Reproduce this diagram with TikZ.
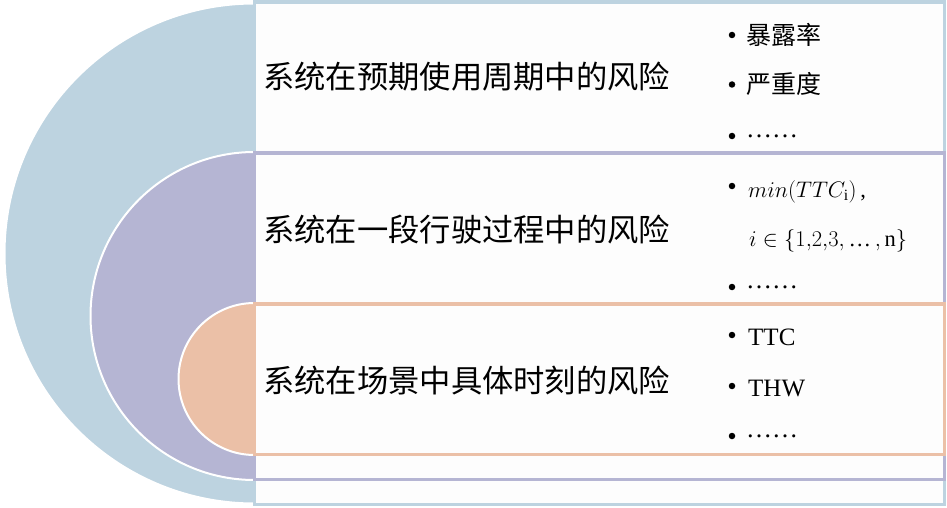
\RequirePackage{fix-cm}
\documentclass[tikz,border=0pt]{standalone}
\usepackage{fontspec}
\setmainfont{Liberation Serif}
\newfontfamily\cjk{Noto Sans CJK SC}
\definecolor{cblue}{RGB}{189,211,224}
\definecolor{cpurple}{RGB}{181,181,211}
\definecolor{corange}{RGB}{235,192,167}
\definecolor{paper}{RGB}{253,253,253}
\tikzset{
  halfdisc/.style={line width=2pt, draw=white},
  panel/.style={line width=3.8pt, fill=paper},
  title/.style={anchor=base west, inner sep=0pt, font=\cjk\fontsize{31.3}{31.3}\selectfont},
  item/.style={anchor=base west, inner sep=0pt, font=\fontsize{25}{25}\selectfont},
  mathitem/.style={anchor=base west, inner sep=0pt, font=\fontsize{22.5}{22.5}\selectfont},
  cjkitem/.style={anchor=base west, inner sep=0pt, font=\cjk\fontsize{25}{25}\selectfont},
  dotsitem/.style={anchor=base west, inner sep=0pt, font=\fontsize{26}{26}\selectfont},
  bul/.style={circle, fill=black, inner sep=0pt, minimum size=6.5pt}
}
\begin{document}
\begin{tikzpicture}[x=1pt,y=-1pt]
\useasboundingbox (0,0) rectangle (947,508);
\fill[white] (0,0) rectangle (947,508);
% outer (blue)
\fill[cblue] (254.5,503.5) arc[start angle=90,end angle=270,radius=250] -- cycle;
\draw[halfdisc] (254.5,503.5) arc[start angle=90,end angle=270,radius=250];
\draw[panel, draw=cblue] (254.5,1.9) rectangle (944.5,504.5);
% middle (purple)
\fill[cpurple] (254.5,480) arc[start angle=90,end angle=270,radius=164] -- cycle;
\draw[halfdisc] (254.5,480) arc[start angle=90,end angle=270,radius=164];
\draw[panel, draw=cpurple] (254.5,152.7) rectangle (944.5,479.5);
% inner (orange)
\fill[corange] (254.5,455) arc[start angle=90,end angle=270,radius=76] -- cycle;
\draw[halfdisc] (254.5,455) arc[start angle=90,end angle=270,radius=76];
\draw[panel, draw=corange] (254.5,304) rectangle (944.5,454.5);
% titles
\node[title] (t1) at (263,88.8) {系统在预期使用周期中的风险};
\node[title] (t2) at (263,241) {系统在一段行驶过程中的风险};
\node[title] (t3) at (263,392) {系统在场景中具体时刻的风险};
% group 1
\node[bul] (b11) at (732,35) {};
\node[cjkitem] (i11) at (746,44.5) {暴露率};
\node[bul] (b12) at (732,84.5) {};
\node[cjkitem] (i12) at (746,94) {严重度};
\node[bul] (b13) at (732,136) {};
\node[dotsitem] (i13) at (746,137.5) {……};
% group 2
\node[bul] (b21) at (732,186) {};
\node[mathitem] (i21) at (748,197) {$min(TTC_{\mathrm{i}})$\,,};
\node[mathitem] (i22) at (749,246) {$i\in\{1{,}2{,}3{,}\,\mbox{…}\,{,}\,\mathrm{n}\}$};
\node[bul] (b23) at (732,287) {};
\node[dotsitem] (i23) at (746,288.5) {……};
% group 3
\node[bul] (b31) at (732,335) {};
\node[item] (i31) at (748,345) {TTC};
\node[bul] (b32) at (732,386) {};
\node[item] (i32) at (748,396) {THW};
\node[bul] (b33) at (732,436) {};
\node[dotsitem] (i33) at (746,437.5) {……};
\end{tikzpicture}
\end{document}
